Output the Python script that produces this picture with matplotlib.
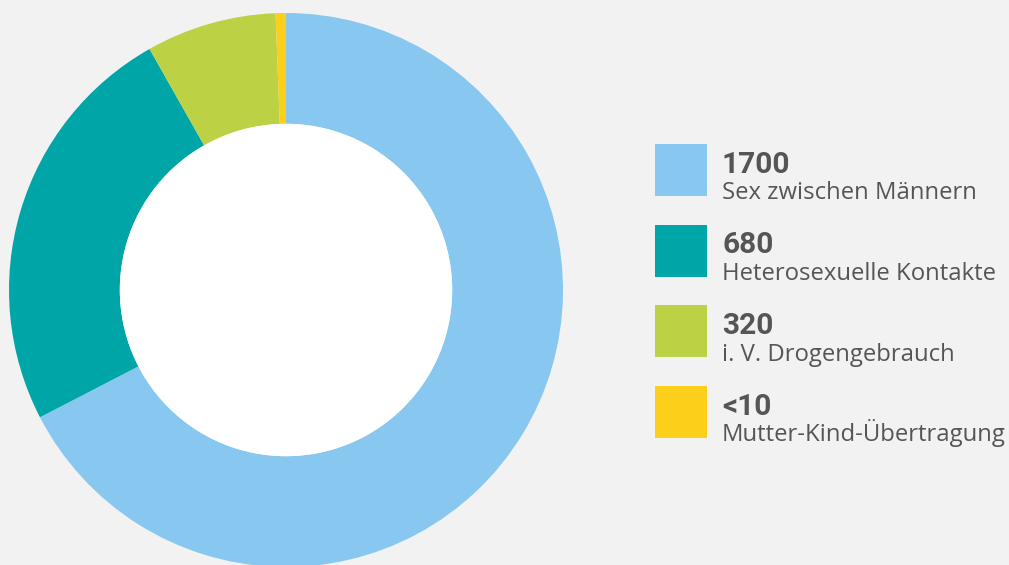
import matplotlib.pyplot as plt
from matplotlib.patches import Circle, Rectangle

# Daten
zahlen = ["1700", "680", "320", "<10"]
gruppen = ["Sex zwischen Männern", "Heterosexuelle Kontakte",
           "i. V. Drogengebrauch", "Mutter-Kind-Übertragung"]
# Anteile der Segmente (in %)
anteile = [67.4, 24.4, 7.6, 0.6]
farben = ["#88c8f0", "#00a5a8", "#bdd145", "#fccf1a"]

W, H = 1009, 565
fig = plt.figure(figsize=(W / 100, H / 100), dpi=100)
fig.patch.set_facecolor("#f2f2f2")

# Donut
ax = fig.add_axes([9 / W, -2 / H, 554 / W, 554 / H])
ax.pie(anteile, colors=farben, startangle=90, counterclock=False,
       wedgeprops=dict(width=0.4, edgecolor="none", linewidth=0))
ax.add_patch(Circle((0, 0), 0.6, facecolor="white", edgecolor="none", zorder=5))
ax.set_aspect("auto")
ax.set_xlim(-1, 1)
ax.set_ylim(-1, 1)
ax.axis("off")

# Legende
for i in range(len(zahlen)):
    top = 144 + i * 80.67
    fig.patches.append(Rectangle((655 / W, 1 - (top + 52) / H), 52 / W, 52 / H,
                                 transform=fig.transFigure, facecolor=farben[i],
                                 edgecolor="none"))
    fig.text(722 / W, 1 - (top + 28.7) / H, zahlen[i], family="Roboto",
             fontweight="bold", fontsize=21.5, color="#555555", va="baseline")
    fig.text(722 / W, 1 - (top + 55.3) / H, gruppen[i], family="Open Sans",
             fontsize=17.2, color="#555555", va="baseline")

plt.savefig("out.png", dpi=100, facecolor=fig.get_facecolor())
